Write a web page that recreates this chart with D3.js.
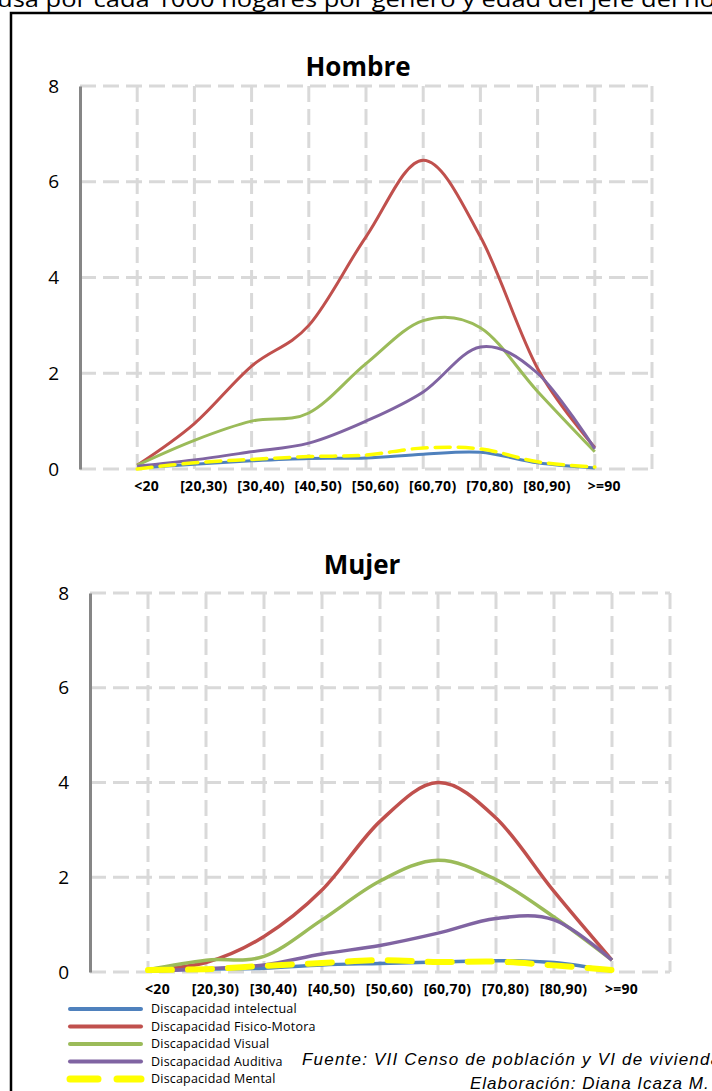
<html>
<head>
  <meta charset="utf-8">
  <title>Discapacidad por edad del jefe del hogar</title>
  <script src="https://d3js.org/d3.v7.min.js"></script>
  <style>
    body { margin: 0; background: #fff; }
    svg { display: block; }
  </style>
</head>
<body>
  <div id="chart"></div>

  <script type="text/javascript">

    // age groups of the head of household
    var ageGroups = ['<20', '[20,30)', '[30,40)', '[40,50)', '[50,60)', '[60,70)', '[70,80)', '[80,90)', '>=90'];
    var yTicks = [0, 2, 4, 6, 8];

    var seriesNames = ['Discapacidad intelectual', 'Discapacidad Fisico-Motora', 'Discapacidad Visual',
                       'Discapacidad Auditiva', 'Discapacidad Mental'];
    var seriesColors = ['#4f81bd', '#c0504d', '#9bbb59', '#8064a2', '#ffff00'];

    // Hombre
    var hombreIntelectual = [0.02, 0.10, 0.17, 0.22, 0.23, 0.31, 0.35, 0.13, 0.02];
    var hombreFisico      = [0.08, 0.95, 2.15, 3.00, 4.85, 6.45, 4.85, 2.10, 0.45];
    var hombreVisual      = [0.08, 0.60, 1.00, 1.17, 2.20, 3.10, 2.95, 1.62, 0.36];
    var hombreAuditiva    = [0.06, 0.19, 0.36, 0.54, 1.00, 1.61, 2.55, 2.00, 0.42];
    var hombreMental      = [0.00, 0.13, 0.20, 0.26, 0.29, 0.44, 0.42, 0.15, 0.04];

    // Mujer
    var mujerIntelectual = [0.02, 0.06, 0.08, 0.15, 0.18, 0.21, 0.24, 0.20, 0.02];
    var mujerFisico      = [0.05, 0.20, 0.75, 1.73, 3.18, 4.00, 3.25, 1.70, 0.25];
    var mujerVisual      = [0.05, 0.25, 0.33, 1.10, 1.92, 2.36, 1.95, 1.16, 0.25];
    var mujerAuditiva    = [0.02, 0.07, 0.15, 0.38, 0.56, 0.82, 1.13, 1.10, 0.25];
    var mujerMental      = [0.04, 0.06, 0.13, 0.19, 0.25, 0.21, 0.22, 0.14, 0.04];

    var panels = [
      {title: 'Hombre', titleX: 358, titleY: 76, left: 80, right: 652, top: 86, bottom: 469,
       lineWidth: 3, mentalWidth: 3.5, mentalDash: '15,8',
       series: [hombreIntelectual, hombreFisico, hombreVisual, hombreAuditiva, hombreMental]},
      {title: 'Mujer', titleX: 362, titleY: 574, left: 90, right: 670, top: 593, bottom: 972,
       lineWidth: 3.5, mentalWidth: 6, mentalDash: '24,16',
       series: [mujerIntelectual, mujerFisico, mujerVisual, mujerAuditiva, mujerMental]}
    ];

    var width = 712;
    var height = 1091;

    var svg = d3.select('#chart')
                .append('svg')
                  .attr('width', width)
                  .attr('height', height);

    // caption above the frame (cut by the top edge)
    svg.append('text')
       .attr('x', -3)
       .attr('y', 7)
       .attr('textLength', 718)
       .attr('lengthAdjust', 'spacingAndGlyphs')
       .style('font-family', '"Open Sans", sans-serif')
       .style('font-size', '21px')
       .style('fill', '#000')
       .text('usa por cada 1000 hogares por género y edad del jefe del ho');

    // black frame
    svg.append('rect')
       .attr('x', 11)
       .attr('y', 13)
       .attr('width', 760)
       .attr('height', 1100)
       .style('fill', 'none')
       .style('stroke', '#000')
       .style('stroke-width', 2.5);

    panels.forEach(function(p) {

      var x = d3.scalePoint().domain(ageGroups).range([p.left, p.right]).padding(1);
      var y = d3.scaleLinear().domain([0, 8]).range([p.bottom, p.top]);

      var g = svg.append('g');

      // horizontal gridlines
      g.selectAll('line.hgrid')
        .data(yTicks)
        .enter().append('line')
          .attr('class', 'hgrid')
          .attr('x1', p.left)
          .attr('x2', p.right)
          .attr('y1', function(d) { return y(d); })
          .attr('y2', function(d) { return y(d); })
          .style('stroke', '#d9d9d9')
          .style('stroke-width', 3)
          .style('stroke-dasharray', '16,7');

      // vertical gridlines: one per category plus the right edge
      var vgrid = ageGroups.map(function(a) { return x(a); }).concat([p.right]);
      g.selectAll('line.vgrid')
        .data(vgrid)
        .enter().append('line')
          .attr('class', 'vgrid')
          .attr('x1', function(d) { return d; })
          .attr('x2', function(d) { return d; })
          .attr('y1', p.top)
          .attr('y2', p.bottom)
          .style('stroke', '#d9d9d9')
          .style('stroke-width', 3)
          .style('stroke-dasharray', '16,7');

      // y axis
      var yAxis = d3.axisLeft(y).tickValues(yTicks).tickSize(0).tickPadding(21);
      var ya = g.append('g')
        .attr('transform', 'translate(' + p.left + ',0)')
        .call(yAxis);
      ya.select('.domain')
        .style('stroke', '#868686')
        .style('stroke-width', 3);
      ya.selectAll('text')
        .style('font-family', '"Open Sans", sans-serif')
        .style('font-size', '19px')
        .style('fill', '#000');

      // x axis labels
      var xAxis = d3.axisBottom(x).tickSize(0).tickPadding(12);
      var xa = g.append('g')
        .attr('transform', 'translate(9,' + p.bottom + ')')
        .call(xAxis);
      xa.select('.domain').remove();
      xa.selectAll('text')
        .style('font-family', '"Open Sans", sans-serif')
        .style('font-size', '14px')
        .style('font-weight', 'bold')
        .style('letter-spacing', '0.3px')
        .style('fill', '#000');

      // title
      g.append('text')
        .attr('x', p.titleX)
        .attr('y', p.titleY)
        .attr('text-anchor', 'middle')
        .style('font-family', '"Open Sans", sans-serif')
        .style('font-size', '26px')
        .style('font-weight', 'bold')
        .text(p.title);

      // lines
      var line = d3.line()
        .x(function(d, i) { return x(ageGroups[i]); })
        .y(function(d) { return y(d); })
        .curve(d3.curveCatmullRom.alpha(0));

      p.series.forEach(function(values, k) {
        var isMental = (k == 4);
        g.append('path')
          .datum(values)
          .attr('d', line)
          .style('fill', 'none')
          .style('stroke', seriesColors[k])
          .style('stroke-width', isMental ? p.mentalWidth : p.lineWidth)
          .style('stroke-dasharray', isMental ? p.mentalDash : null)
          .style('stroke-linecap', isMental ? 'round' : 'butt');
      });
    });

    // legend
    var legend = svg.append('g')
      .attr('class', 'legend');

    var legendY = d3.scalePoint().domain(seriesNames).range([1009, 1079]);

    legend.selectAll('line')
      .data(seriesNames)
      .enter().append('line')
        .attr('x1', 70)
        .attr('x2', 141)
        .attr('y1', function(d) { return legendY(d); })
        .attr('y2', function(d) { return legendY(d); })
        .style('stroke', function(d, i) { return seriesColors[i]; })
        .style('stroke-width', function(d, i) { return i == 4 ? 7 : 4; })
        .style('stroke-linecap', 'round')
        .style('stroke-dasharray', function(d, i) { return i == 4 ? '28,19' : null; });

    legend.selectAll('text')
      .data(seriesNames)
      .enter().append('text')
        .attr('x', 151)
        .attr('y', function(d) { return legendY(d) + 4; })
        .style('font-family', '"Open Sans", sans-serif')
        .style('font-size', '12.5px')
        .style('letter-spacing', '0.2px')
        .style('fill', '#000')
        .text(function(d) { return d; });

    // source notes
    svg.append('text')
       .attr('x', 302)
       .attr('y', 1065)
       .style('font-family', '"Liberation Sans", Arial, sans-serif')
       .style('font-size', '17px')
       .style('font-style', 'italic')
       .style('letter-spacing', '1.2px')
       .text('Fuente: VII Censo de población y VI de vivienda');

    svg.append('text')
       .attr('x', 470)
       .attr('y', 1089)
       .style('font-family', '"Liberation Sans", Arial, sans-serif')
       .style('font-size', '17px')
       .style('font-style', 'italic')
       .style('letter-spacing', '1px')
       .text('Elaboración: Diana Icaza M.');

  </script>
</body>
</html>
